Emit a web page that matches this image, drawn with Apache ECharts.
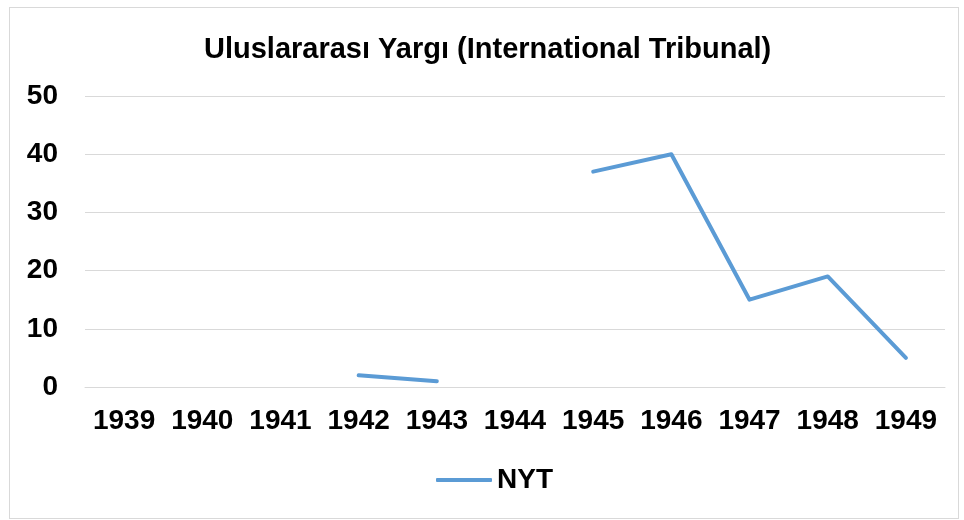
<!DOCTYPE html>
<html>
<head>
<meta charset="utf-8">
<script src="https://cdn.jsdelivr.net/npm/echarts@6/dist/echarts.min.js"></script>
<style>
  html, body { margin: 0; padding: 0; background: #fff; }
  #frame { position: absolute; left: 9px; top: 7px; width: 948px; height: 510px; border: 1px solid #d9d9d9; }
  #main { position: absolute; left: 0; top: 0; width: 964px; height: 520px; }
</style>
</head>
<body>
<div id="frame"></div>
<div id="main"></div>
<script>
// data
var years = ['1939', '1940', '1941', '1942', '1943', '1944', '1945', '1946', '1947', '1948', '1949']
var nyt = [null, null, null, 2, 1, null, 37, 40, 15, 19, 5]

var chartDom = document.getElementById('main')
var myChart = echarts.init(chartDom)
var font = 'Liberation Sans, Arial, sans-serif'
var option = {
  animation: false,
  title: {
    text: 'Uluslararası Yargı (International Tribunal)',
    left: 199,
    top: 30,
    textStyle: { fontFamily: font, fontSize: 29, fontWeight: 'bold', color: '#000' }
  },
  legend: {
    data: ['NYT'],
    bottom: 26,
    left: 436,
    itemWidth: 56,
    itemHeight: 4,
    itemGap: 6,
    padding: 0,
    icon: 'roundRect',
    textStyle: { fontFamily: font, fontSize: 28, fontWeight: 'bold', color: '#000' }
  },
  grid: {
    left: 85,
    right: 19,
    top: 96,
    bottom: 133
  },
  xAxis: {
    type: 'category',
    data: years,
    boundaryGap: true,
    axisLine: { lineStyle: { color: '#d9d9d9', width: 1 } },
    axisTick: { show: false },
    axisLabel: { interval: 0, margin: 20, fontFamily: font, fontSize: 28, fontWeight: 'bold', color: '#000' }
  },
  yAxis: {
    type: 'value',
    min: 0,
    max: 50,
    interval: 10,
    axisLine: { show: false },
    axisTick: { show: false },
    splitLine: { lineStyle: { color: '#d9d9d9', width: 1 } },
    axisLabel: { margin: 27, fontFamily: font, fontSize: 28, fontWeight: 'bold', color: '#000' }
  },
  series: [
    {
      name: 'NYT',
      type: 'line',
      data: nyt,
      connectNulls: false,
      showSymbol: false,
      symbol: 'none',
      lineStyle: { color: '#5b9bd5', width: 4, cap: 'round', join: 'round' },
      itemStyle: { color: '#5b9bd5' }
    }
  ]
}
option && myChart.setOption(option)
</script>
</body>
</html>
